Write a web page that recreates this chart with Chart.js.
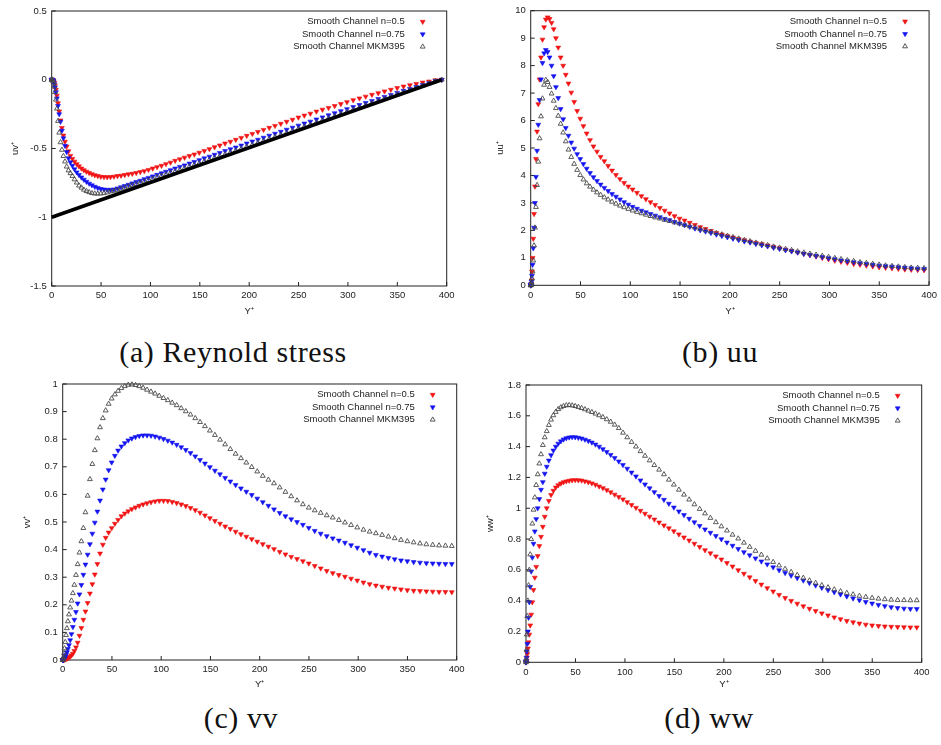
<!DOCTYPE html>
<html>
<head>
<meta charset="utf-8">
<script src="https://cdn.jsdelivr.net/npm/chart.js@4.4.1/dist/chart.umd.min.js"></script>
<style>
  body { margin: 0; background: #fff; width: 941px; height: 745px; position: relative; overflow: hidden; }
  canvas { position: absolute; }
  .cap { position: absolute; font-family: 'Liberation Serif', serif; font-size: 30px; line-height: 1; color: #111;
         transform: translateX(-50%); white-space: nowrap; letter-spacing: 0.6px; }
</style>
</head>
<body>
<canvas id="chartA"></canvas>
<canvas id="chartB"></canvas>
<canvas id="chartC"></canvas>
<canvas id="chartD"></canvas>
<div class="cap" style="left:233px;top:337px">(a) Reynold stress</div>
<div class="cap" style="left:720px;top:337px">(b) uu</div>
<div class="cap" style="left:241px;top:703px">(c) vv</div>
<div class="cap" style="left:709px;top:703px">(d) ww</div>
<script>
// wall-normal grid (half channel, y+)
const yPlus = [0, 0.05, 0.21, 0.48, 0.85, 1.32, 1.90, 2.59, 3.38, 4.28,
  5.28, 6.38, 7.59, 8.90, 10.32, 11.84, 13.46, 15.18, 17.01, 18.94,
  20.96, 23.09, 25.32, 27.64, 30.07, 32.59, 35.21, 37.92, 40.74, 43.64,
  46.64, 49.73, 52.92, 56.20, 59.57, 63.02, 66.57, 70.20, 73.93, 77.73,
  81.63, 85.60, 89.66, 93.80, 98.02, 102.32, 106.70, 111.16, 115.69, 120.30,
  124.98, 129.73, 134.56, 139.45, 144.42, 149.44, 154.54, 159.70, 164.92, 170.21,
  175.55, 180.95, 186.41, 191.93, 197.50, 203.12, 208.80, 214.52, 220.30, 226.12,
  231.98, 237.89, 243.84, 249.83, 255.86, 261.93, 268.03, 274.17, 280.34, 286.54,
  292.77, 299.02, 305.31, 311.61, 317.94, 324.29, 330.66, 337.04, 343.44, 349.86,
  356.28, 362.72, 369.17, 375.62, 382.08, 388.54, 395.00];

const seriesNames = ['Smooth Channel n=0.5', 'Smooth Channel n=0.75', 'Smooth Channel MKM395'];

// Reynolds shear stress uv+
const uvN05 = [0, 0, 0, 0, -0.001, -0.003, -0.009, -0.02, -0.04, -0.072,
  -0.115, -0.17, -0.23, -0.295, -0.35, -0.405, -0.45, -0.485, -0.52, -0.553,
  -0.575, -0.595, -0.613, -0.629, -0.645, -0.657, -0.668, -0.677, -0.686, -0.694,
  -0.70, -0.705, -0.707, -0.708, -0.707, -0.704, -0.70, -0.697, -0.692, -0.687,
  -0.683, -0.677, -0.671, -0.664, -0.655, -0.645, -0.635, -0.625, -0.613, -0.602,
  -0.589, -0.578, -0.566, -0.554, -0.543, -0.53, -0.517, -0.504, -0.49, -0.477,
  -0.463, -0.45, -0.436, -0.422, -0.407, -0.393, -0.379, -0.364, -0.349, -0.335,
  -0.32, -0.305, -0.29, -0.274, -0.26, -0.246, -0.231, -0.217, -0.204, -0.19,
  -0.176, -0.162, -0.148, -0.135, -0.122, -0.109, -0.097, -0.084, -0.072, -0.06,
  -0.049, -0.039, -0.03, -0.02, -0.012, -0.003, 0];
const uvN075 = [0, 0, 0, 0, -0.001, -0.004, -0.013, -0.03, -0.055, -0.09,
  -0.135, -0.19, -0.25, -0.305, -0.37, -0.425, -0.48, -0.525, -0.57, -0.60,
  -0.625, -0.65, -0.673, -0.692, -0.71, -0.726, -0.741, -0.755, -0.767, -0.778,
  -0.787, -0.794, -0.798, -0.80, -0.80, -0.797, -0.79, -0.781, -0.772, -0.763,
  -0.753, -0.743, -0.734, -0.723, -0.713, -0.702, -0.691, -0.68, -0.669, -0.657,
  -0.645, -0.633, -0.622, -0.609, -0.597, -0.584, -0.571, -0.559, -0.545, -0.532,
  -0.518, -0.505, -0.492, -0.478, -0.463, -0.449, -0.436, -0.421, -0.406, -0.392,
  -0.378, -0.363, -0.348, -0.333, -0.318, -0.304, -0.288, -0.273, -0.258, -0.243,
  -0.228, -0.213, -0.198, -0.183, -0.168, -0.154, -0.139, -0.124, -0.11, -0.095,
  -0.08, -0.066, -0.052, -0.037, -0.024, -0.009, 0];
const uvMKM = [0, 0, 0, 0, -0.003, -0.01, -0.027, -0.05, -0.09, -0.145,
  -0.21, -0.30, -0.385, -0.455, -0.51, -0.555, -0.595, -0.632, -0.66, -0.68,
  -0.70, -0.725, -0.748, -0.77, -0.785, -0.80, -0.81, -0.818, -0.825, -0.828,
  -0.829, -0.828, -0.825, -0.82, -0.813, -0.808, -0.801, -0.793, -0.785, -0.776,
  -0.767, -0.759, -0.75, -0.74, -0.731, -0.72, -0.709, -0.699, -0.689, -0.677,
  -0.666, -0.655, -0.643, -0.631, -0.619, -0.607, -0.594, -0.582, -0.568, -0.555,
  -0.542, -0.529, -0.515, -0.502, -0.487, -0.473, -0.459, -0.445, -0.43, -0.416,
  -0.401, -0.387, -0.372, -0.356, -0.341, -0.327, -0.311, -0.295, -0.28, -0.265,
  -0.249, -0.233, -0.218, -0.202, -0.186, -0.171, -0.155, -0.138, -0.123, -0.107,
  -0.09, -0.075, -0.059, -0.043, -0.027, -0.011, 0];
// total shear stress line
const totalStressX = [0, 395];
const totalStressY = [-1, 0];

// streamwise normal stress uu+
const uuN05 = [0, 0, 0.01, 0.05, 0.18, 0.5, 1.0, 1.7, 2.6, 3.6,
  4.6, 5.6, 6.6, 7.5, 8.3, 8.95, 9.4, 9.68, 9.76, 9.7,
  9.56, 9.33, 9.0, 8.66, 8.3, 8.0, 7.67, 7.35, 7.02, 6.68,
  6.35, 6.07, 5.8, 5.53, 5.29, 5.06, 4.87, 4.68, 4.52, 4.35,
  4.18, 4.02, 3.87, 3.73, 3.6, 3.49, 3.37, 3.25, 3.14, 3.03,
  2.93, 2.82, 2.72, 2.62, 2.52, 2.43, 2.36, 2.28, 2.2, 2.12,
  2.05, 1.98, 1.91, 1.85, 1.79, 1.74, 1.69, 1.64, 1.59, 1.54,
  1.5, 1.45, 1.4, 1.35, 1.3, 1.25, 1.2, 1.15, 1.1, 1.05,
  1.0, 0.95, 0.9, 0.86, 0.82, 0.78, 0.75, 0.72, 0.69, 0.66,
  0.64, 0.62, 0.6, 0.58, 0.57, 0.56, 0.55];
const uuN075 = [0, 0, 0.01, 0.04, 0.13, 0.35, 0.75, 1.35, 2.1, 3.0,
  3.95, 4.9, 5.85, 6.75, 7.5, 8.1, 8.45, 8.57, 8.5, 8.3,
  8.0, 7.62, 7.22, 6.82, 6.42, 6.05, 5.73, 5.45, 5.2, 4.98,
  4.78, 4.6, 4.42, 4.25, 4.09, 3.94, 3.8, 3.67, 3.55, 3.44,
  3.33, 3.23, 3.13, 3.03, 2.94, 2.86, 2.79, 2.72, 2.66, 2.6,
  2.54, 2.48, 2.42, 2.37, 2.31, 2.25, 2.19, 2.13, 2.07, 2.01,
  1.96, 1.91, 1.85, 1.8, 1.75, 1.7, 1.65, 1.6, 1.56, 1.51,
  1.46, 1.42, 1.37, 1.33, 1.28, 1.24, 1.2, 1.15, 1.11, 1.07,
  1.03, 0.99, 0.95, 0.91, 0.88, 0.84, 0.81, 0.78, 0.75, 0.72,
  0.7, 0.68, 0.66, 0.64, 0.62, 0.61, 0.6];
const uuMKM = [0, 0, 0.005, 0.03, 0.1, 0.25, 0.5, 0.9, 1.45, 2.1,
  2.85, 3.65, 4.5, 5.35, 6.15, 6.8, 7.3, 7.48, 7.4, 7.22,
  6.98, 6.72, 6.45, 6.17, 5.88, 5.56, 5.24, 4.94, 4.67, 4.42,
  4.2, 4.01, 3.85, 3.71, 3.59, 3.48, 3.38, 3.29, 3.2, 3.12,
  3.04, 2.97, 2.9, 2.84, 2.78, 2.72, 2.67, 2.62, 2.57, 2.52,
  2.47, 2.43, 2.38, 2.34, 2.29, 2.25, 2.2, 2.15, 2.1, 2.05,
  2.0, 1.95, 1.9, 1.85, 1.8, 1.75, 1.7, 1.65, 1.6, 1.55,
  1.5, 1.46, 1.41, 1.37, 1.32, 1.28, 1.23, 1.19, 1.15, 1.11,
  1.07, 1.03, 0.99, 0.95, 0.91, 0.88, 0.84, 0.81, 0.78, 0.75,
  0.72, 0.7, 0.68, 0.66, 0.64, 0.63, 0.62];

// wall-normal normal stress vv+
const vvN05 = [0, 0, 0, 0, 0.0003, 0.0008, 0.0015, 0.0025, 0.004, 0.005,
  0.007, 0.009, 0.012, 0.017, 0.023, 0.033, 0.046, 0.063, 0.088, 0.116,
  0.146, 0.176, 0.207, 0.241, 0.275, 0.31, 0.348, 0.386, 0.418, 0.443,
  0.462, 0.478, 0.494, 0.508, 0.521, 0.531, 0.539, 0.547, 0.553, 0.559,
  0.564, 0.568, 0.572, 0.575, 0.577, 0.577, 0.576, 0.573, 0.569, 0.564,
  0.558, 0.551, 0.543, 0.534, 0.524, 0.514, 0.504, 0.494, 0.484, 0.475,
  0.465, 0.456, 0.447, 0.438, 0.429, 0.42, 0.411, 0.402, 0.392, 0.383,
  0.374, 0.366, 0.358, 0.35, 0.341, 0.332, 0.323, 0.315, 0.308, 0.302,
  0.295, 0.288, 0.281, 0.275, 0.27, 0.266, 0.262, 0.259, 0.256, 0.253,
  0.251, 0.25, 0.249, 0.248, 0.247, 0.247, 0.246];
const vvN075 = [0, 0, 0.0005, 0.001, 0.002, 0.004, 0.007, 0.012, 0.019, 0.028,
  0.04, 0.054, 0.072, 0.094, 0.12, 0.146, 0.174, 0.205, 0.238, 0.272,
  0.309, 0.346, 0.382, 0.42, 0.458, 0.498, 0.538, 0.578, 0.618, 0.654,
  0.688, 0.716, 0.74, 0.759, 0.774, 0.786, 0.796, 0.803, 0.808, 0.812,
  0.814, 0.814, 0.813, 0.81, 0.806, 0.801, 0.795, 0.788, 0.78, 0.771,
  0.761, 0.75, 0.738, 0.725, 0.712, 0.699, 0.686, 0.673, 0.66, 0.647,
  0.634, 0.622, 0.61, 0.598, 0.585, 0.572, 0.559, 0.546, 0.533, 0.521,
  0.51, 0.5, 0.49, 0.479, 0.468, 0.458, 0.449, 0.441, 0.433, 0.425,
  0.416, 0.407, 0.398, 0.389, 0.381, 0.375, 0.37, 0.365, 0.361, 0.358,
  0.355, 0.353, 0.351, 0.35, 0.349, 0.348, 0.348];
const vvMKM = [0, 0, 0.001, 0.004, 0.011, 0.024, 0.042, 0.065, 0.09, 0.115,
  0.14, 0.165, 0.19, 0.215, 0.242, 0.272, 0.308, 0.347, 0.389, 0.43,
  0.478, 0.535, 0.595, 0.655, 0.71, 0.76, 0.803, 0.843, 0.876, 0.904,
  0.928, 0.947, 0.962, 0.975, 0.985, 0.992, 0.997, 0.998, 0.996, 0.992,
  0.986, 0.979, 0.972, 0.965, 0.957, 0.949, 0.941, 0.932, 0.923, 0.912,
  0.901, 0.889, 0.876, 0.862, 0.847, 0.831, 0.815, 0.798, 0.781, 0.764,
  0.747, 0.731, 0.715, 0.699, 0.683, 0.667, 0.653, 0.64, 0.625, 0.609,
  0.593, 0.578, 0.564, 0.552, 0.542, 0.533, 0.524, 0.516, 0.507, 0.498,
  0.489, 0.48, 0.472, 0.465, 0.459, 0.453, 0.447, 0.441, 0.435, 0.43,
  0.426, 0.422, 0.419, 0.417, 0.415, 0.414, 0.413];

// spanwise normal stress ww+
const wwN05 = [0, 0.001, 0.004, 0.012, 0.03, 0.055, 0.09, 0.13, 0.18, 0.24,
  0.31, 0.39, 0.47, 0.55, 0.62, 0.69, 0.755, 0.815, 0.88, 0.945,
  1.0, 1.048, 1.087, 1.114, 1.135, 1.15, 1.161, 1.169, 1.175, 1.179,
  1.182, 1.183, 1.182, 1.18, 1.175, 1.169, 1.162, 1.153, 1.142, 1.131,
  1.118, 1.104, 1.089, 1.074, 1.058, 1.04, 1.022, 1.003, 0.984, 0.965,
  0.946, 0.927, 0.908, 0.889, 0.87, 0.851, 0.831, 0.811, 0.791, 0.77,
  0.749, 0.728, 0.708, 0.688, 0.668, 0.645, 0.622, 0.598, 0.575, 0.552,
  0.528, 0.505, 0.482, 0.46, 0.438, 0.418, 0.399, 0.381, 0.364, 0.348,
  0.333, 0.318, 0.305, 0.292, 0.28, 0.269, 0.26, 0.252, 0.245, 0.24,
  0.236, 0.233, 0.231, 0.229, 0.228, 0.227, 0.227];
const wwN075 = [0, 0.002, 0.01, 0.03, 0.07, 0.12, 0.2, 0.29, 0.39, 0.49,
  0.59, 0.68, 0.77, 0.85, 0.93, 1.0, 1.06, 1.12, 1.17, 1.225,
  1.27, 1.31, 1.345, 1.375, 1.4, 1.42, 1.435, 1.447, 1.455, 1.46,
  1.462, 1.461, 1.458, 1.453, 1.446, 1.437, 1.427, 1.414, 1.4, 1.384,
  1.366, 1.347, 1.326, 1.304, 1.281, 1.257, 1.232, 1.207, 1.181, 1.155,
  1.13, 1.105, 1.08, 1.055, 1.03, 1.005, 0.98, 0.956, 0.932, 0.909,
  0.886, 0.863, 0.841, 0.82, 0.799, 0.778, 0.757, 0.736, 0.715, 0.695,
  0.675, 0.655, 0.636, 0.617, 0.598, 0.58, 0.563, 0.547, 0.531, 0.515,
  0.499, 0.484, 0.469, 0.455, 0.441, 0.428, 0.415, 0.403, 0.392, 0.382,
  0.373, 0.365, 0.358, 0.353, 0.349, 0.347, 0.346];
const wwMKM = [0, 0.005, 0.02, 0.08, 0.18, 0.3, 0.4, 0.5, 0.6, 0.7,
  0.8, 0.9, 0.99, 1.07, 1.15, 1.22, 1.29, 1.35, 1.41, 1.46,
  1.5, 1.54, 1.575, 1.603, 1.625, 1.643, 1.655, 1.663, 1.668, 1.669,
  1.667, 1.663, 1.657, 1.65, 1.642, 1.633, 1.624, 1.614, 1.603, 1.591,
  1.577, 1.561, 1.542, 1.52, 1.49, 1.46, 1.43, 1.4, 1.37, 1.34,
  1.31, 1.28, 1.25, 1.22, 1.185, 1.153, 1.12, 1.088, 1.056, 1.025,
  0.995, 0.966, 0.937, 0.909, 0.882, 0.855, 0.828, 0.803, 0.776, 0.749,
  0.723, 0.698, 0.674, 0.651, 0.628, 0.606, 0.586, 0.566, 0.548, 0.531,
  0.515, 0.5, 0.486, 0.473, 0.461, 0.45, 0.44, 0.431, 0.424, 0.418,
  0.413, 0.409, 0.406, 0.404, 0.403, 0.402, 0.402];

// tick labels
const xTicks = [0, 50, 100, 150, 200, 250, 300, 350, 400];
const uvTicks = [-1.5, -1, -0.5, 0, 0.5];
const uuTicks = [0, 1, 2, 3, 4, 5, 6, 7, 8, 9, 10];
const vvTicks = [0, 0.1, 0.2, 0.3, 0.4, 0.5, 0.6, 0.7, 0.8, 0.9, 1];
const wwTicks = [0, 0.2, 0.4, 0.6, 0.8, 1, 1.2, 1.4, 1.6, 1.8];

Chart.defaults.font.family = "'Liberation Sans', Arial, sans-serif";
Chart.defaults.font.size = 9.5;
Chart.defaults.color = '#222';

const FONT = { family: "'Liberation Sans', Arial, sans-serif", size: 9.5 };
const X_AXIS_H = 32;
const MARK_R = 2.8;

const styles = [
  { color: '#f01414', down: true, filled: true, order: 3 },
  { color: '#1414f0', down: true, filled: true, order: 2 },
  { color: '#4a4a4a', down: false, filled: false, order: 1 }
];

function toPoints(xs, ys) {
  return xs.map((x, i) => ({ x, y: ys[i] }));
}

function drawTri(ctx, x, y, r, down) {
  const s = down ? -1 : 1;
  ctx.beginPath();
  ctx.moveTo(x, y - s * r);
  ctx.lineTo(x + r * 0.866, y + s * r * 0.5);
  ctx.lineTo(x - r * 0.866, y + s * r * 0.5);
  ctx.closePath();
}

// plot box with inward tick marks
const frame = {
  id: 'frame',
  beforeDatasetsDraw(chart) {
    const { ctx, chartArea: a, scales: { x, y } } = chart;
    ctx.save();
    ctx.strokeStyle = '#222';
    ctx.lineWidth = 1;
    ctx.strokeRect(a.left, a.top, a.right - a.left, a.bottom - a.top);
    ctx.beginPath();
    x.ticks.forEach(t => {
      const px = x.getPixelForValue(t.value);
      ctx.moveTo(px, a.bottom);
      ctx.lineTo(px, a.bottom - 4);
    });
    y.ticks.forEach(t => {
      const py = y.getPixelForValue(t.value);
      ctx.moveTo(a.left, py);
      ctx.lineTo(a.left + 4, py);
    });
    ctx.stroke();
    ctx.restore();
  }
};

// gnuplot-style key: right-aligned text, sample marker to its right
const key = {
  id: 'key',
  afterDatasetsDraw(chart) {
    const { ctx, chartArea: a } = chart;
    ctx.save();
    ctx.font = FONT.size + 'px ' + FONT.family;
    ctx.textAlign = 'right';
    ctx.textBaseline = 'middle';
    seriesNames.forEach((name, i) => {
      const st = styles[i];
      const ty = a.top + 10.7 + 12.5 * i;
      ctx.fillStyle = '#222';
      ctx.fillText(name, a.right - 42, ty);
      drawTri(ctx, a.right - 24, ty, MARK_R, st.down);
      ctx.lineWidth = st.filled ? 0.6 : 0.9;
      ctx.strokeStyle = st.color;
      if (st.filled) { ctx.fillStyle = st.color; ctx.fill(); }
      ctx.stroke();
    });
    ctx.restore();
  }
};

function makeChart(p) {
  const canvas = document.getElementById(p.id);
  canvas.width = p.w;
  canvas.height = p.h;
  canvas.style.left = p.left + 'px';
  canvas.style.top = p.top + 'px';

  const datasets = p.series.map((ys, i) => {
    const st = styles[i];
    return {
      label: seriesNames[i],
      data: toPoints(yPlus, ys),
      pointStyle: 'triangle',
      rotation: st.down ? 180 : 0,
      pointRadius: MARK_R,
      pointBorderWidth: st.filled ? 0.6 : 0.9,
      pointBackgroundColor: st.filled ? st.color : 'rgba(0,0,0,0)',
      pointBorderColor: st.color,
      showLine: false,
      clip: false,
      order: st.order
    };
  });
  if (p.line) {
    datasets.push({
      type: 'line',
      data: toPoints(p.line.xs, p.line.ys),
      borderColor: '#000',
      borderWidth: 3.5,
      pointRadius: 0,
      showLine: true,
      clip: false,
      order: 0
    });
  }

  const a = p.area;
  new Chart(canvas, {
    type: 'scatter',
    data: { datasets },
    options: {
      responsive: false,
      animation: false,
      devicePixelRatio: 1,
      events: [],
      layout: {
        padding: { left: 0, top: a.top, right: p.w - a.right, bottom: p.h - a.bottom - X_AXIS_H }
      },
      plugins: { legend: { display: false }, tooltip: { enabled: false } },
      scales: {
        x: {
          type: 'linear',
          min: 0,
          max: 400,
          afterBuildTicks: s => { s.ticks = xTicks.map(v => ({ value: v })); },
          afterFit: s => { s.height = X_AXIS_H; },
          grid: { display: false, drawTicks: false },
          border: { display: false },
          ticks: { padding: 4, font: FONT, maxRotation: 0, autoSkip: false, callback: v => String(v) },
          title: {
            display: true, text: 'Y⁺', font: FONT,
            padding: { top: 0, bottom: a.bottom + X_AXIS_H - 5.7 - p.xTitleY }
          }
        },
        y: {
          type: 'linear',
          min: p.yMin,
          max: p.yMax,
          afterBuildTicks: s => { s.ticks = p.yTicks.map(v => ({ value: v })); },
          afterFit: s => { s.width = a.left; },
          grid: { display: false, drawTicks: false },
          border: { display: false },
          ticks: { padding: 5, font: FONT, autoSkip: false, callback: v => String(v) },
          title: {
            display: true, text: p.yTitle, font: FONT,
            padding: { top: p.yTitleX - 5.7, bottom: 0 }
          }
        }
      }
    },
    plugins: [frame, key]
  });
}

const panels = [
  { id: 'chartA', left: 0, top: 0, w: 470, h: 325,
    area: { left: 51.7, top: 11, right: 446.7, bottom: 286 },
    yTitle: 'uv⁺', yTitleX: 15, xTitleY: 311, yMin: -1.5, yMax: 0.5, yTicks: uvTicks,
    series: [uvN05, uvN075, uvMKM], line: { xs: totalStressX, ys: totalStressY } },
  { id: 'chartB', left: 470, top: 0, w: 471, h: 325,
    area: { left: 60.7, top: 10, right: 461.7, bottom: 285.3 },
    yTitle: 'uu⁺', yTitleX: 30, xTitleY: 311, yMin: 0, yMax: 10, yTicks: uuTicks,
    series: [uuN05, uuN075, uuMKM] },
  { id: 'chartC', left: 0, top: 370, w: 470, h: 330,
    area: { left: 62.7, top: 14, right: 456.7, bottom: 290 },
    yTitle: 'vv⁺', yTitleX: 27, xTitleY: 314, yMin: 0, yMax: 1, yTicks: vvTicks,
    series: [vvN05, vvN075, vvMKM] },
  { id: 'chartD', left: 470, top: 370, w: 471, h: 330,
    area: { left: 56, top: 15, right: 451.7, bottom: 292.3 },
    yTitle: 'ww⁺', yTitleX: 20, xTitleY: 314, yMin: 0, yMax: 1.8, yTicks: wwTicks,
    series: [wwN05, wwN075, wwMKM] }
];

panels.forEach(makeChart);
</script>
</body>
</html>
